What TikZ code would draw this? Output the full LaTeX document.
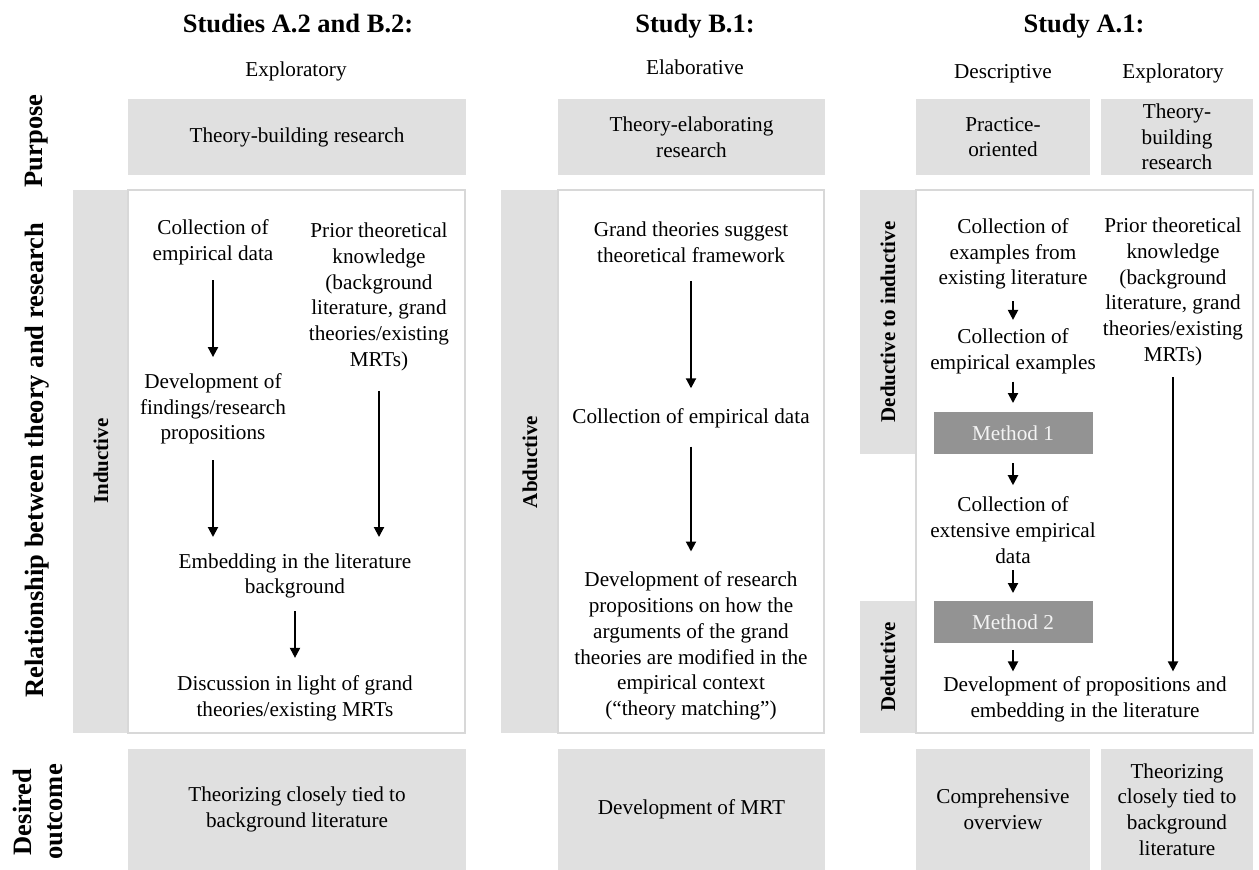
\documentclass[tikz,border=0pt]{standalone}
\usepackage{fontspec}
\setmainfont{Liberation Serif}
\usetikzlibrary{arrows.meta}
\definecolor{panel}{HTML}{E0E0E0}
\definecolor{frame}{HTML}{D8D8D8}
\definecolor{method}{HTML}{939393}
\definecolor{methodtext}{HTML}{F4F4F4}

\begin{document}
\begin{tikzpicture}[x=1pt,y=-1pt,
  every node/.style={inner sep=0pt, outer sep=0pt},
  body/.style={font=\fontsize{21.2}{25.7}\selectfont, align=center},
  head/.style={font=\fontsize{26.5}{31}\selectfont\bfseries, align=center},
  rowlabel/.style={head, rotate=90},
  bandlabel/.style={font=\fontsize{21}{25}\selectfont\bfseries, rotate=90},
  graybox/.style={body, fill=panel},
  methodbox/.style={body, fill=method, text=methodtext, minimum width=159pt, minimum height=42pt},
  whitepanel/.style={draw=frame, line width=1.5pt, fill=white},
  arr/.style={line width=2pt, -{Triangle[width=10pt,length=10pt]}}
]
\useasboundingbox (0,0) rectangle (1259,870);

% ---- column headings ----
\node[head, anchor=base] (t1) at (298,32) {Studies A.2 and B.2:};
\node[head, anchor=base] (t2) at (695,32) {Study B.1:};
\node[head, anchor=base] (t3) at (1084,32) {Study A.1:};
\node[body, anchor=base] (s1) at (296,76) {Exploratory};
\node[body, anchor=base] (s2) at (695,74) {Elaborative};
\node[body, anchor=base] (s3) at (1003,78) {Descriptive};
\node[body, anchor=base] (s4) at (1173,78) {Exploratory};

% ---- row headings ----
\node[rowlabel] (rp) at (37,141) {Purpose};
\node[rowlabel] (rr) at (37,460) {Relationship between theory and research};
\node[rowlabel] (ro) at (37.5,812) {Desired\\outcome};

% ---- purpose row ----
\node[graybox, minimum width=338pt, minimum height=76pt] (pur1) at (297,137) {Theory-building research};
\node[graybox, minimum width=267pt, minimum height=76pt] (pur2) at (691.5,137) {Theory-elaborating\\research};
\node[graybox, minimum width=174pt, minimum height=76pt] (pur3) at (1003,137) {Practice-\\oriented};
\node[graybox, minimum width=152pt, minimum height=76pt] (pur4) at (1177,137) {Theory-\\building\\research};

% ---- desired outcome row ----
\node[graybox, minimum width=338pt, minimum height=121pt] (out1) at (297,809.5) {Theorizing closely tied to\\background literature};
\node[graybox, minimum width=267pt, minimum height=121pt] (out2) at (691.5,809.5) {Development of MRT};
\node[graybox, minimum width=174pt, minimum height=121pt] (out3) at (1003,809.5) {Comprehensive\\overview};
\node[graybox, minimum width=152pt, minimum height=121pt] (out4) at (1177,809.5) {Theorizing\\closely tied to\\background\\literature};

% ---- relationship row: bands and panels ----
\fill[panel] (73,190) rectangle (128,733);
\draw[whitepanel] (128,190) rectangle (465,733);
\fill[panel] (501,190) rectangle (558,733);
\draw[whitepanel] (558,190) rectangle (824,733);
\fill[panel] (860,190) rectangle (916,454);
\fill[panel] (860,601) rectangle (916,733);
\draw[whitepanel] (916,190) rectangle (1253,733);

\node[bandlabel] (bi) at (101,461) {Inductive};
\node[bandlabel] (ba) at (530,462) {Abductive};
\node[bandlabel] (bdi) at (888,322) {Deductive to inductive};
\node[bandlabel] (bd) at (888,667) {Deductive};

% ---- Studies A.2 and B.2 ----
\node[body] (c1) at (213,242.5) {Collection of\\empirical data};
\node[body] (p1) at (379,297) {Prior theoretical\\knowledge\\(background\\literature, grand\\theories/existing\\MRTs)};
\node[body] (d1) at (213,409) {Development of\\findings/research\\propositions};
\node[body] (e1) at (295,576) {Embedding in the literature\\background};
\node[body] (disc) at (295,698) {Discussion in light of grand\\theories/existing MRTs};

\draw[arr, shorten <=15pt, shorten >=16.5pt] (c1.south) -- (c1.south |- d1.north);
\draw[arr, shorten <=16pt, shorten >=16.5pt] (d1.south) -- (d1.south |- e1.north);
\draw[arr, shorten <=20pt, shorten >=16.5pt] (p1.south) -- (p1.south |- e1.north);
\draw[arr, shorten <=13pt, shorten >=17.5pt] (e1.south) -- (e1.south |- disc.north);

% ---- Study B.1 ----
\node[body] (g) at (691,242.5) {Grand theories suggest\\theoretical framework};
\node[body] (ce) at (691,418) {Collection of empirical data};
\node[body] (dr) at (691,646) {Development of research\\propositions on how the\\arguments of the grand\\theories are modified in the\\empirical context\\(“theory matching”)};

\draw[arr, shorten <=18pt, shorten >=20pt] (g.south) -- (g.south |- ce.north);
\draw[arr, shorten <=19pt, shorten >=20.5pt] (ce.south) -- (ce.south |- dr.north);

% ---- Study A.1 ----
\node[body] (ex) at (1013,254) {Collection of\\examples from\\existing literature};
\node[body] (ee) at (1013,351) {Collection of\\empirical examples};
\node[methodbox] (m1) at (1013,433) {Method 1};
\node[body] (cx) at (1013,530) {Collection of\\extensive empirical\\data};
\node[methodbox] (m2) at (1013,622) {Method 2};
\node[body] (dp) at (1085,699.5) {Development of propositions and\\embedding in the literature};
\node[body] (pt) at (1173,292) {Prior theoretical\\knowledge\\(background\\literature, grand\\theories/existing\\MRTs)};

\draw[arr, shorten <=12pt, shorten >=8.5pt] (ex.south) -- (ex.south |- ee.north);
\draw[arr, shorten <=8pt, shorten >=9pt] (ee.south) -- (ee.south |- m1.north);
\draw[arr, shorten <=9pt, shorten >=11.5pt] (m1.south) -- (m1.south |- cx.north);
\draw[arr, shorten <=7pt, shorten >=8pt] (cx.south) -- (cx.south |- m2.north);
\draw[arr, shorten <=7pt, shorten >=5.5pt] (m2.south) -- (m2.south |- dp.north);
\draw[arr, shorten <=11.5pt, shorten >=5.5pt] (pt.south) -- (pt.south |- dp.north);
\end{tikzpicture}
\end{document}
